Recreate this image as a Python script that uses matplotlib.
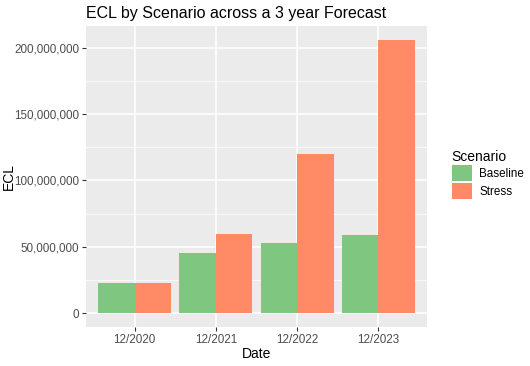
import numpy as np
import matplotlib.pyplot as plt
from matplotlib.ticker import FuncFormatter, MultipleLocator
from matplotlib.patches import Patch

plt.rcParams['font.family'] = ['Liberation Sans', 'DejaVu Sans']

# data
dates = ['12/2020', '12/2021', '12/2022', '12/2023']
baseline = [22.5e6, 45.5e6, 53e6, 59e6]
stress = [22.5e6, 59.8e6, 120e6, 206e6]

green = '#7FC680'
orange = '#FF8A65'

fig = plt.figure(figsize=(5.3, 3.66), dpi=100)
ax = fig.add_axes([86/530, 39/366, 341/530, 301/366])
ax.set_facecolor('#EBEBEB')

x = np.arange(1, len(dates) + 1)
w = 0.45
ax.bar(x - w/2, baseline, width=w, color=green, zorder=3)
ax.bar(x + w/2, stress, width=w, color=orange, zorder=3)

ymax = max(stress)
ax.set_xlim(0.4, 4.6)
ax.set_ylim(-0.05 * ymax, 1.05 * ymax)

ax.yaxis.set_major_locator(MultipleLocator(50e6))
ax.yaxis.set_minor_locator(MultipleLocator(25e6))
ax.yaxis.set_major_formatter(FuncFormatter(lambda v, p: f'{int(v):,}'))
ax.set_xticks(x)
ax.set_xticklabels(dates)

ax.grid(which='major', color='white', linewidth=1.1, zorder=0)
ax.grid(which='minor', axis='y', color='white', linewidth=0.5, zorder=0)
for s in ax.spines.values():
    s.set_visible(False)
ax.tick_params(which='major', length=3, width=0.8, color='#333333',
               labelcolor='#4D4D4D', labelsize=8.4, pad=2)
ax.tick_params(which='minor', length=0)

ax.set_xlabel('Date', fontsize=10, labelpad=1)
ax.set_ylabel('ECL', fontsize=10)
ax.yaxis.set_label_coords((16 - 86) / 341, 0.5)
ax.set_title('ECL by Scenario across a 3 year Forecast', fontsize=11.5,
             loc='left', pad=6)

handles = [Patch(facecolor=green, label='Baseline'),
           Patch(facecolor=orange, label='Stress')]
leg = fig.legend(handles=handles, title='Scenario', loc='upper left',
                 bbox_to_anchor=(447/530, 1 - 145/366), frameon=False,
                 fontsize=8.4, title_fontsize=10, handlelength=1.75,
                 handleheight=1.8, handletextpad=0.6, labelspacing=0.1,
                 borderaxespad=0)
leg._legend_box.align = 'left'

fig.savefig('out.png', dpi=100)
